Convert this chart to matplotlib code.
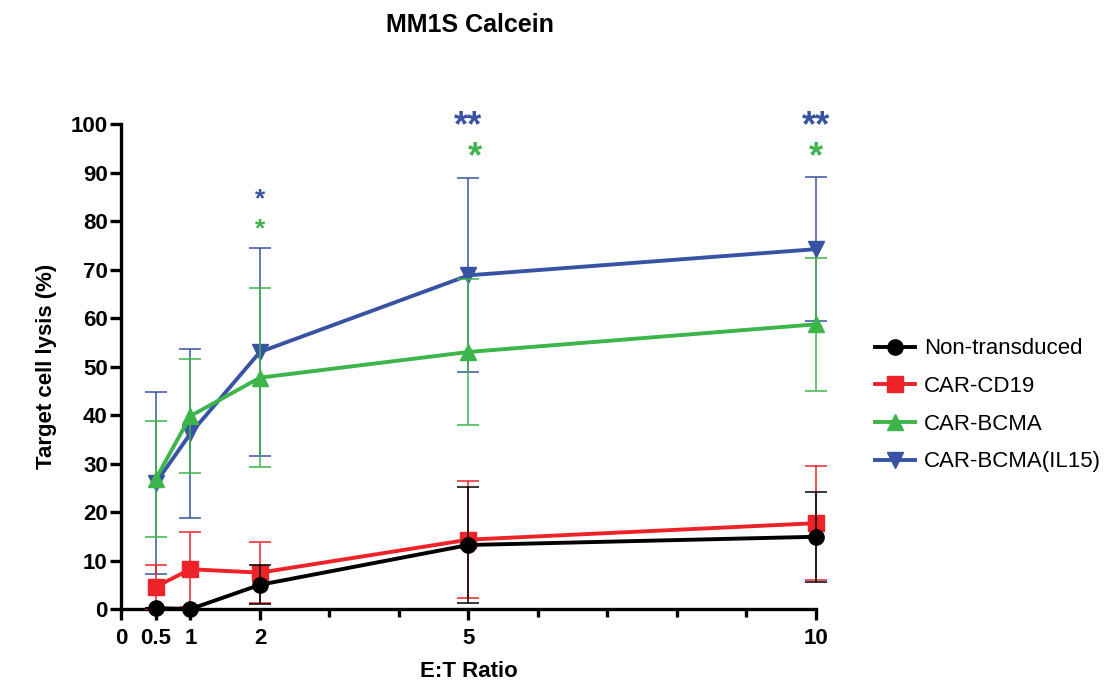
import matplotlib.pyplot as plt
import numpy as np

plt.rcParams['font.family'] = ['Liberation Sans', 'DejaVu Sans']

# Datos
ratios = [0.5, 1, 2, 5, 10]
grupos = ['Non-transduced', 'CAR-CD19', 'CAR-BCMA', 'CAR-BCMA(IL15)']
non_td = [0.2, 0.0, 5.0, 13.2, 14.9]
non_td_err = [0.0, 0.0, 4.0, 11.9, 9.3]
cd19 = [4.6, 8.2, 7.5, 14.3, 17.7]
cd19_err = [4.5, 7.7, 6.3, 12.0, 11.7]
bcma = [26.8, 39.8, 47.7, 53.0, 58.7]
bcma_err = [11.9, 11.8, 18.4, 15.1, 13.7]
bcma15 = [26.0, 36.2, 53.0, 68.8, 74.2]
bcma15_err = [18.7, 17.4, 21.4, 20.0, 14.9]
# asteriscos: (x, y, texto, grupo, tamano)
estrellas = [(2, 84.4, '*', 3, 19), (2, 78.2, '*', 2, 19),
             (5, 99.5, '**', 3, 26), (5.1, 93.0, '*', 2, 26),
             (10, 99.5, '**', 3, 26), (10, 93.0, '*', 2, 26)]

colores = ['#000000', '#EE2329', '#3DB54A', '#3953A4']
marcas = ['o', 's', '^', 'v']
medias = [non_td, cd19, bcma, bcma15]
errores = [non_td_err, cd19_err, bcma_err, bcma15_err]

fig = plt.figure(figsize=(11.12, 6.87), dpi=100)
ax = fig.add_axes([0.1088, 0.1135, 0.625, 0.706])

orden = [3, 2, 1, 0]
handles = {}
for z, i in enumerate(orden):
    ax.errorbar(ratios, medias[i], yerr=errores[i], color=colores[i],
                elinewidth=1.1, capsize=8, capthick=1.1, linestyle='none',
                zorder=2 + z * 2, clip_on=False)
    h, = ax.plot(ratios, medias[i], color=colores[i], marker=marcas[i],
                 markersize=11, linewidth=2.8, label=grupos[i],
                 zorder=3 + z * 2, clip_on=False)
    handles[i] = h

for x, y, t, g, fs in estrellas:
    ax.text(x, y, t, color=colores[g], fontsize=fs, fontweight='bold',
            ha='center', va='center', clip_on=False)

ax.set_xlim(0, 10)
ax.set_ylim(0, 100)
ax.set_xticks([0, 0.5, 1, 2, 5, 10])
ax.set_xticklabels(['0', '0.5', '1', '2', '5', '10'])
ax.set_xticks([3, 4, 6, 7, 8, 9], minor=True)
ax.set_yticks(np.arange(0, 101, 10))

for s in ['top', 'right']:
    ax.spines[s].set_visible(False)
for s in ['left', 'bottom']:
    ax.spines[s].set_linewidth(2.4)
ax.tick_params(axis='both', which='major', length=8, width=2.4,
               labelsize=16, pad=1.5)
ax.tick_params(axis='x', which='minor', length=6, width=2.4)
ax.tick_params(axis='x', which='major', pad=6)
for lab in ax.get_xticklabels() + ax.get_yticklabels():
    lab.set_fontweight('bold')

ax.set_xlabel('E:T Ratio', fontsize=16, fontweight='bold', labelpad=8)
ax.set_ylabel('Target cell lysis (%)', fontsize=16, fontweight='bold',
              labelpad=10)
fig.text(0.423, 0.963, 'MM1S Calcein', fontsize=18, fontweight='bold',
         ha='center', va='center')

ax.legend([handles[i] for i in range(4)], grupos, loc='center left',
          bbox_to_anchor=(1.056, 0.42), frameon=False, fontsize=16,
          handlelength=1.8, labelspacing=0.75, handletextpad=0.4)

fig.savefig('out.png', dpi=100)
